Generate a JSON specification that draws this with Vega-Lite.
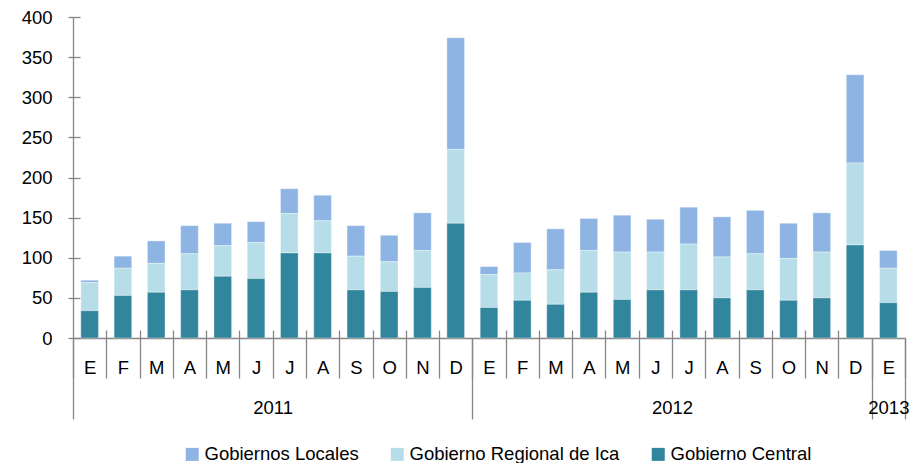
{
  "$schema": "https://vega.github.io/schema/vega-lite/v6.json",
  "width": 832,
  "height": 321,
  "autosize": {"type": "none"},
  "padding": {"left": 73, "top": 17, "right": 6, "bottom": 125},
  "background": "#ffffff",
  "config": {
    "view": {"stroke": null},
    "font": "Liberation Sans",
    "axis": {
      "labelFont": "Liberation Sans",
      "labelFontSize": 18.5,
      "labelColor": "#000000",
      "domainColor": "#868686",
      "tickColor": "#868686",
      "domainWidth": 1.3,
      "tickWidth": 1.3,
      "grid": false,
      "title": null
    }
  },
  "data": {
    "values": [
      {"i": 0, "mes": "E", "anio": "2011", "Gobierno Central": 34, "Gobierno Regional de Ica": 35, "Gobiernos Locales": 3},
      {"i": 1, "mes": "F", "anio": "2011", "Gobierno Central": 53, "Gobierno Regional de Ica": 34, "Gobiernos Locales": 15},
      {"i": 2, "mes": "M", "anio": "2011", "Gobierno Central": 57, "Gobierno Regional de Ica": 36, "Gobiernos Locales": 28},
      {"i": 3, "mes": "A", "anio": "2011", "Gobierno Central": 60, "Gobierno Regional de Ica": 45, "Gobiernos Locales": 35},
      {"i": 4, "mes": "M", "anio": "2011", "Gobierno Central": 77, "Gobierno Regional de Ica": 38, "Gobiernos Locales": 28},
      {"i": 5, "mes": "J", "anio": "2011", "Gobierno Central": 74, "Gobierno Regional de Ica": 45, "Gobiernos Locales": 26},
      {"i": 6, "mes": "J", "anio": "2011", "Gobierno Central": 106, "Gobierno Regional de Ica": 49, "Gobiernos Locales": 31},
      {"i": 7, "mes": "A", "anio": "2011", "Gobierno Central": 106, "Gobierno Regional de Ica": 40, "Gobiernos Locales": 32},
      {"i": 8, "mes": "S", "anio": "2011", "Gobierno Central": 60, "Gobierno Regional de Ica": 42, "Gobiernos Locales": 38},
      {"i": 9, "mes": "O", "anio": "2011", "Gobierno Central": 58, "Gobierno Regional de Ica": 37, "Gobiernos Locales": 33},
      {"i": 10, "mes": "N", "anio": "2011", "Gobierno Central": 63, "Gobierno Regional de Ica": 46, "Gobiernos Locales": 47},
      {"i": 11, "mes": "D", "anio": "2011", "Gobierno Central": 143, "Gobierno Regional de Ica": 92, "Gobiernos Locales": 139},
      {"i": 12, "mes": "E", "anio": "2012", "Gobierno Central": 38, "Gobierno Regional de Ica": 41, "Gobiernos Locales": 10},
      {"i": 13, "mes": "F", "anio": "2012", "Gobierno Central": 47, "Gobierno Regional de Ica": 34, "Gobiernos Locales": 38},
      {"i": 14, "mes": "M", "anio": "2012", "Gobierno Central": 42, "Gobierno Regional de Ica": 43, "Gobiernos Locales": 51},
      {"i": 15, "mes": "A", "anio": "2012", "Gobierno Central": 57, "Gobierno Regional de Ica": 52, "Gobiernos Locales": 40},
      {"i": 16, "mes": "M", "anio": "2012", "Gobierno Central": 48, "Gobierno Regional de Ica": 59, "Gobiernos Locales": 46},
      {"i": 17, "mes": "J", "anio": "2012", "Gobierno Central": 60, "Gobierno Regional de Ica": 47, "Gobiernos Locales": 41},
      {"i": 18, "mes": "J", "anio": "2012", "Gobierno Central": 60, "Gobierno Regional de Ica": 57, "Gobiernos Locales": 46},
      {"i": 19, "mes": "A", "anio": "2012", "Gobierno Central": 50, "Gobierno Regional de Ica": 51, "Gobiernos Locales": 50},
      {"i": 20, "mes": "S", "anio": "2012", "Gobierno Central": 60, "Gobierno Regional de Ica": 45, "Gobiernos Locales": 54},
      {"i": 21, "mes": "O", "anio": "2012", "Gobierno Central": 47, "Gobierno Regional de Ica": 52, "Gobiernos Locales": 44},
      {"i": 22, "mes": "N", "anio": "2012", "Gobierno Central": 50, "Gobierno Regional de Ica": 57, "Gobiernos Locales": 49},
      {"i": 23, "mes": "D", "anio": "2012", "Gobierno Central": 116, "Gobierno Regional de Ica": 102, "Gobiernos Locales": 110},
      {"i": 24, "mes": "E", "anio": "2013", "Gobierno Central": 44, "Gobierno Regional de Ica": 43, "Gobiernos Locales": 22}
    ]
  },
  "transform": [
    {"fold": ["Gobiernos Locales", "Gobierno Regional de Ica", "Gobierno Central"], "as": ["serie", "valor"]}
  ],
  "layer": [
    {
      "mark": {"type": "bar", "width": {"band": 0.53}, "stroke": "#ffffff", "strokeOpacity": 0.6, "strokeWidth": 0.6},
      "encoding": {
        "x": {
          "field": "i",
          "type": "ordinal",
          "scale": {"paddingInner": 0, "paddingOuter": 0},
          "axis": {
            "orient": "bottom",
            "labelAngle": 0,
            "labelExpr": "isValid(datum.value) ? ['E','F','M','A','M','J','J','A','S','O','N','D'][datum.value % 12] : ''",
            "tickBand": "extent",
            "tickSize": 40,
            "labelBaseline": "middle",
            "labelPadding": -11
          }
        },
        "y": {
          "field": "valor",
          "type": "quantitative",
          "stack": "zero",
          "scale": {"domain": [0, 400], "nice": false},
          "axis": {"orient": "left", "values": [0, 50, 100, 150, 200, 250, 300, 350, 400], "tickSize": 5, "labelPadding": 16}
        },
        "color": {
          "field": "serie",
          "type": "nominal",
          "scale": {
            "domain": ["Gobiernos Locales", "Gobierno Regional de Ica", "Gobierno Central"],
            "range": ["#8EB4E3", "#B7DEE8", "#31859C"]
          },
          "legend": {
            "orient": "none",
            "legendX": 110,
            "legendY": 428,
            "direction": "horizontal",
            "title": null,
            "padding": 0,
            "symbolType": "square",
            "symbolSize": 169,
            "symbolStrokeWidth": 0,
            "symbolOpacity": 1,
            "labelFont": "Liberation Sans",
            "labelFontSize": 18.5,
            "labelColor": "#000000",
            "labelOffset": 3,
            "labelLimit": 400,
            "columnPadding": 29
          }
        },
        "order": {"field": "serie", "sort": "ascending"}
      }
    },
    {
      "mark": {"type": "point", "opacity": 0},
      "encoding": {
        "x": {
          "field": "i",
          "type": "ordinal",
          "axis": {
            "orient": "bottom",
            "domain": false,
            "labelAngle": 0,
            "tickBand": "extent",
            "tickSize": {"condition": {"test": "datum.index < 0 || datum.value == 11 || datum.value == 23 || datum.value == 24", "value": 81}, "value": -8},
            "labelExpr": "datum.value === 0 ? '2011' : datum.value === 12 ? '2012' : datum.value === 24 ? '2013' : ''",
            "labelOffset": {"condition": {"test": "datum.value == 24", "value": 0}, "value": 183},
            "labelPadding": {"condition": {"test": "datum.value == 24", "value": -12}, "value": 77},
            "labelBaseline": "middle"
          }
        },
        "y": {
          "field": "valor",
          "type": "quantitative",
          "axis": {"orient": "left", "values": [0, 50, 100, 150, 200, 250, 300, 350, 400], "tickSize": -7, "labels": false, "domain": false}
        }
      }
    }
  ],
  "resolve": {"axis": {"x": "independent", "y": "independent"}}
}
